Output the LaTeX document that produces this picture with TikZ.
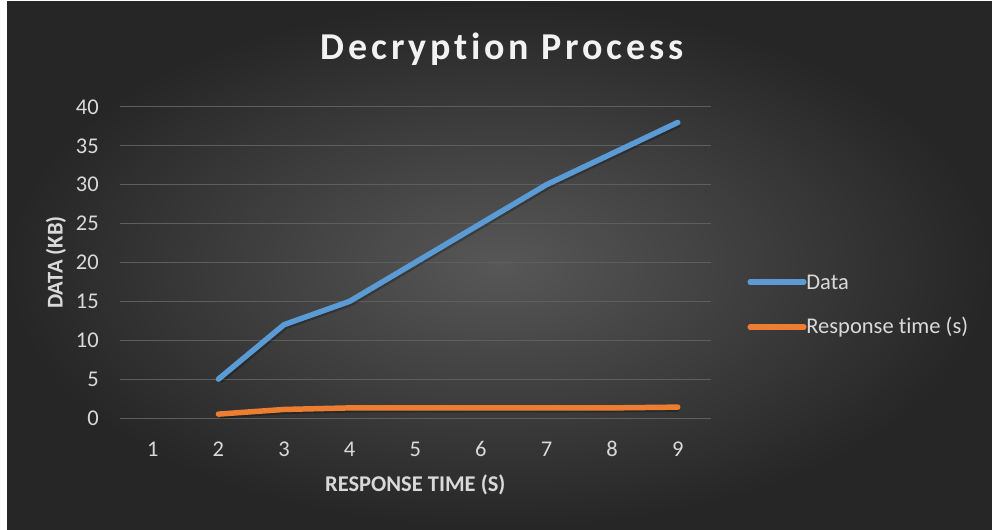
\documentclass[tikz,border=0pt]{standalone}
\usepackage{fontspec}
\setmainfont{Carlito}[Ligatures=NoCommon]
\newfontfamily\titlefont{Carlito}[LetterSpace=10, Ligatures=NoCommon]
\usetikzlibrary{positioning}
\definecolor{bgdark}{HTML}{262626}
\definecolor{bglight}{HTML}{575757}
\definecolor{gridgray}{HTML}{5E5E5E}
\definecolor{labelgray}{HTML}{D9D9D9}
\definecolor{titlewhite}{HTML}{F2F2F2}
\definecolor{datablue}{HTML}{5B9BD5}
\definecolor{timeorange}{HTML}{ED7D31}
\tikzset{
  % thin horizontal grid line
  gridline/.style = {
    draw = gridgray,
    line width = 0.7pt
  },
  % one series of the chart
  series/.style = {
    line width = 3.9pt,
    line cap = round,
    line join = round,
    preaction = {
      draw = black,
      opacity = 0.25,
      line width = 4.2pt,
      transform canvas = {shift = {(1pt,-1.2pt)}}
    }
  },
  tick label/.style = {
    text = labelgray,
    font = \fontsize{16}{19}\selectfont,
    inner sep = 0
  },
  axis title/.style = {
    text = labelgray,
    font = \fontsize{16}{19}\selectfont\bfseries,
    inner sep = 0
  },
  legend text/.style = {
    text = labelgray,
    font = \fontsize{16}{19}\selectfont,
    anchor = west,
    inner sep = 1.5pt
  },
  legend line/.style = {
    line width = 3.6pt,
    line cap = round
  }
}
\begin{document}
\begin{tikzpicture}[x=0.025cm, y=0.025cm]
  % frame and shaded chart area
  \fill[white] (0,0) rectangle (992,529);
  \shade[inner color=bglight, outer color=bgdark] (7,0) rectangle (992,527);
  \useasboundingbox (0,0) rectangle (992,529);

  % title
  \node[text=titlewhite, font=\titlefont\fontsize{27}{32}\selectfont\bfseries,
        anchor=base, inner sep=0] (title) at (502,470) {Decryption Process};

  \begin{scope}[shift={(120,111)}, x=1.64cm, y=0.194375cm]
    \foreach \v in {0,5,...,40} {
      \draw[gridline] (0,\v) -- (9,\v);
      \node[tick label, anchor=east] (ylab\v) at (-0.32,\v) {\v};
    }
    \foreach \i in {1,...,9}
      \node[tick label] (xlab\i) at (\i-0.5,-4) {\i};

    \node[axis title, rotate=90] (ytitle) at (-0.976,20) {DATA (KB)};
    \node[axis title] (xtitle) at (4.5,-8.6) {RESPONSE TIME (S)};

    % Data
    \draw[series, datablue] (1.5,5) -- (2.5,12) -- (3.5,15) -- (4.5,20)
      -- (5.5,25) -- (6.5,30) -- (7.5,34) -- (8.5,38);
    % Response time (s)
    \draw[series, timeorange] (1.5,0.5) -- (2.5,1.1) -- (3.5,1.3) -- (4.5,1.3)
      -- (5.5,1.3) -- (6.5,1.3) -- (7.5,1.3) -- (8.5,1.4);
  \end{scope}

  % legend
  \node[legend text] (legdata) at (804,247) {Data};
  \node[legend text] (legtime) at (804,202) {Response time (s)};
  \coordinate (legdatastart) at (750,247);
  \coordinate (legtimestart) at (750,202);
  \draw[legend line, datablue] (legdatastart) -- (legdata.west);
  \draw[legend line, timeorange] (legtimestart) -- (legtime.west);
\end{tikzpicture}
\end{document}
